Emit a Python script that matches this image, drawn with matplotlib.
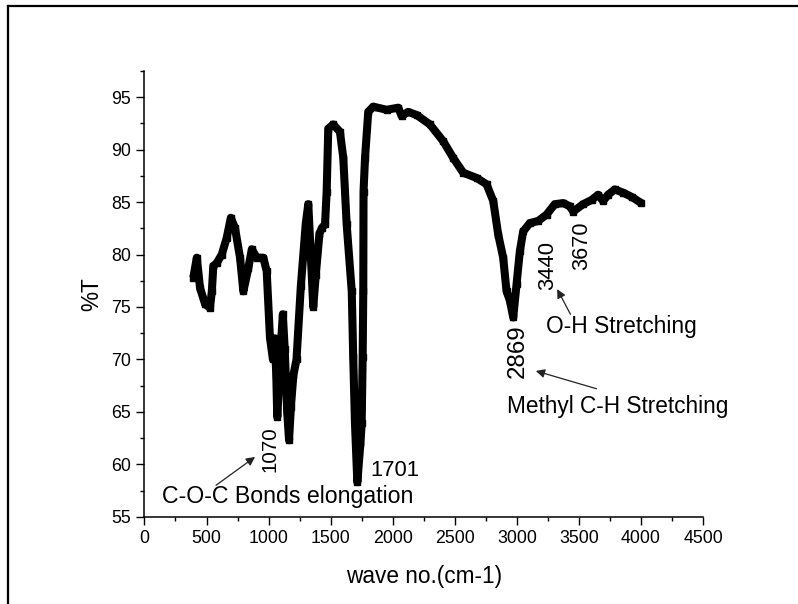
import numpy as np
import matplotlib
matplotlib.use('Agg')
import matplotlib.pyplot as plt
from matplotlib.lines import Line2D
from matplotlib.ticker import MultipleLocator

plt.rcParams['font.family'] = ['Liberation Sans', 'DejaVu Sans']

# FTIR spectrum
wavenumber = [394, 422, 448, 488, 528, 543, 555, 583, 623, 663, 696, 730, 770, 797,
              837, 865, 905, 958, 985, 1011, 1035, 1050, 1062, 1070, 1085, 1100, 1115,
              1130, 1150, 1165, 1180, 1200, 1225, 1260, 1300, 1320, 1340, 1360, 1380,
              1410, 1428, 1455, 1468, 1481, 1521, 1575, 1602, 1629, 1670, 1682, 1696,
              1715, 1740, 1750, 1758, 1763, 1765, 1777, 1803, 1843, 1951, 2045, 2072,
              2125, 2193, 2300, 2407, 2488, 2568, 2676, 2756, 2810, 2850, 2890, 2917,
              2944, 2971, 2998, 3024, 3051, 3105, 3172, 3239, 3306, 3373, 3427, 3454,
              3534, 3602, 3655, 3695, 3735, 3789, 3856, 3924, 4004]
transmittance = [77.8, 79.7, 76.8, 75.3, 74.9, 76.5, 78.9, 79.2, 80.0, 81.6, 83.5, 82.5,
                 79.7, 76.5, 78.7, 80.5, 79.7, 79.7, 78.4, 72.1, 70.0, 72.0, 68.5, 64.5,
                 68.0, 71.5, 74.3, 71.0, 65.0, 62.3, 65.5, 68.5, 70.0, 77.0, 83.0, 84.8,
                 80.0, 75.0, 78.0, 82.0, 82.5, 82.9, 86.0, 92.0, 92.4, 91.7, 89.2, 82.9,
                 76.5, 70.2, 63.9, 58.3, 62.0, 63.9, 70.2, 76.5, 86.0, 89.2, 93.6, 94.1,
                 93.8, 94.0, 93.2, 93.6, 93.3, 92.4, 90.8, 89.2, 87.8, 87.3, 86.7, 85.1,
                 81.9, 79.7, 76.5, 75.6, 74.0, 77.2, 80.3, 82.2, 83.0, 83.2, 83.8, 84.8,
                 84.9, 84.6, 84.1, 84.8, 85.2, 85.7, 85.1, 85.7, 86.2, 85.9, 85.5, 84.9]

fig = plt.figure(figsize=(7.98, 6.04), dpi=100)
ax = fig.add_axes([0.181, 0.1445, 0.700, 0.738])

ax.plot(wavenumber, transmittance, color='black', lw=5.8, marker='s', ms=5,
        solid_joinstyle='round', solid_capstyle='butt')

ax.set_xlim(0, 4500)
ax.set_ylim(55, 97.5)
ax.xaxis.set_major_locator(MultipleLocator(500))
ax.xaxis.set_minor_locator(MultipleLocator(250))
ax.yaxis.set_major_locator(MultipleLocator(5))
ax.yaxis.set_minor_locator(MultipleLocator(2.5))
ax.set_yticks(np.arange(55, 96, 5))
ax.tick_params(which='major', length=5.5, width=1, labelsize=12.8, pad=4)
ax.tick_params(which='minor', length=2.6, width=1)
for s in ['top', 'right']:
    ax.spines[s].set_visible(False)
for s in ['left', 'bottom']:
    ax.spines[s].set_linewidth(1.1)

ax.set_xlabel('wave no.(cm-1)', fontsize=16.3, labelpad=13)
ax.set_ylabel('%T', fontsize=16.3, labelpad=6)

# peak labels
ax.text(1012, 61.4, '1070', rotation=90, fontsize=14.8, ha='center', va='center')
ax.text(1817, 59.4, '1701', fontsize=15.8, ha='left', va='center')
ax.text(3009, 70.8, '2869', rotation=90, fontsize=17.4, ha='center', va='center')
ax.text(3250, 79.0, '3440', rotation=90, fontsize=15.8, ha='center', va='center')
ax.text(3524, 80.8, '3670', rotation=90, fontsize=15.6, ha='center', va='center')

ax.text(140, 56.9, 'C-O-C Bonds elongation', fontsize=16.7, ha='left', va='center')
ax.text(3234, 73.1, 'O-H Stretching', fontsize=16.4, ha='left', va='center')
ax.text(2920, 65.5, 'Methyl C-H Stretching', fontsize=16.3, ha='left', va='center')

arrow = dict(arrowstyle='-|>', lw=0.9, color='#222222', mutation_scale=13,
             shrinkA=0, shrinkB=0)
ax.annotate('', xy=(891, 60.7), xytext=(577, 58.0), arrowprops=arrow)
ax.annotate('', xy=(3325, 76.7), xytext=(3432, 74.3), arrowprops=arrow)
ax.annotate('', xy=(3153, 68.9), xytext=(3642, 67.2), arrowprops=arrow)

# frame around the picture
fx = 8 / 798
fy = 1 - 6 / 604
fig.add_artist(Line2D([fx, fx], [0, fy], color='black', lw=1.6))
fig.add_artist(Line2D([fx, 1], [fy, fy], color='black', lw=1.6))

plt.savefig('out.png', dpi=100)
